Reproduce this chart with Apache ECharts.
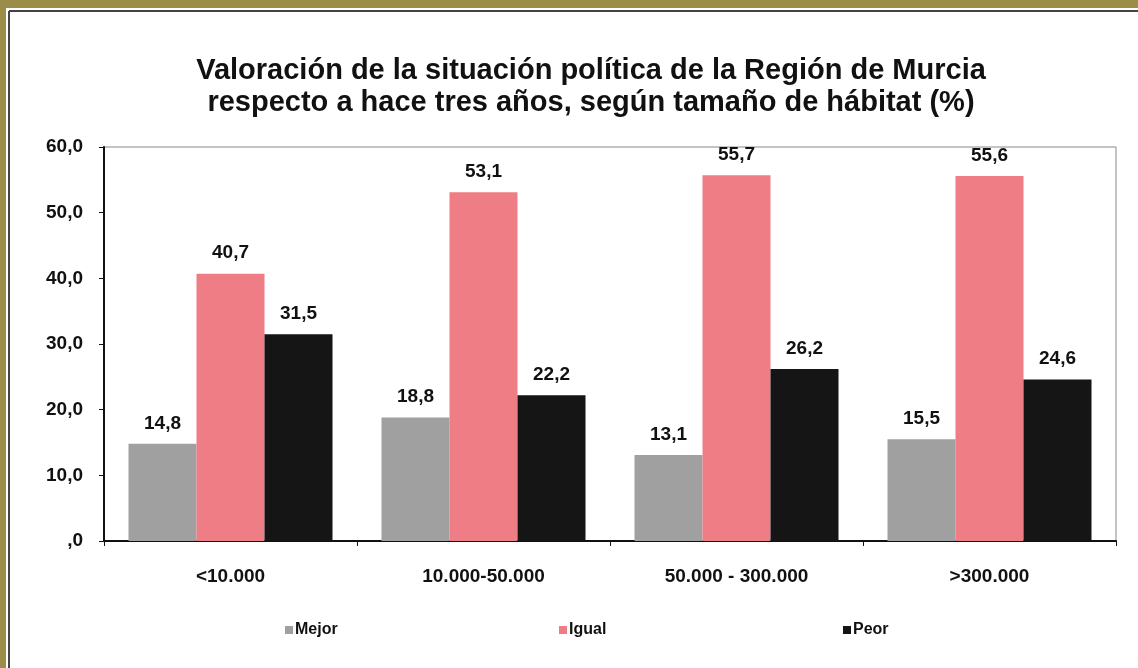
<!DOCTYPE html>
<html>
<head>
<meta charset="utf-8">
<script src="https://cdn.jsdelivr.net/npm/echarts@6/dist/echarts.min.js"></script>
<style>
html,body{margin:0;padding:0;background:#fff;}
#main{width:1138px;height:668px;}
</style>
</head>
<body>
<div id="main"></div>
<script>
const categories = ['<10.000', '10.000-50.000', '50.000 - 300.000', '>300.000'];
const mejor = [14.8, 18.8, 13.1, 15.5];
const igual = [40.7, 53.1, 55.7, 55.6];
const peor = [31.5, 22.2, 26.2, 24.6];
const seriesNames = ['Mejor', 'Igual', 'Peor'];
const seriesColors = ['#a0a0a0', '#ef7d85', '#151515'];
const titleLines = ['Valoración de la situación política de la Región de Murcia',
                    'respecto a hace tres años, según tamaño de hábitat (%)'];

const FONT = '"Liberation Sans", Arial, sans-serif';
function fmt(v) {
  const s = v.toFixed(1).replace('.', ',');
  return s.startsWith('0,') ? s.substring(1) : s;
}
const labelCfg = {
  show: true, position: 'top', distance: 11,
  color: '#111', fontWeight: 'bold', fontSize: 19, fontFamily: FONT,
  formatter: p => fmt(p.value)
};
const chart = echarts.init(document.getElementById('main'));
const dataSets = [mejor, igual, peor];
const legendLeft = [280, 554, 838];
chart.setOption({
  backgroundColor: '#fff',
  animation: false,
  title: {
    text: titleLines.join('\n'),
    left: 586, top: 50, textAlign: 'center',
    textStyle: { fontFamily: FONT, fontWeight: 'bold', fontSize: 29, color: '#111', lineHeight: 32 }
  },
  graphic: [
    { type: 'rect', shape: { x: 0, y: 0, width: 1138, height: 8 }, style: { fill: '#9b8c48' } },
    { type: 'rect', shape: { x: 0, y: 0, width: 6, height: 668 }, style: { fill: '#9b8c48' } },
    { type: 'line', shape: { x1: 9, y1: 11, x2: 1138, y2: 11 }, style: { stroke: '#444', lineWidth: 2 } },
    { type: 'line', shape: { x1: 9, y1: 11, x2: 9, y2: 668 }, style: { stroke: '#444', lineWidth: 2 } }
  ],
  legend: seriesNames.map((n, i) => ({
    data: [n], left: legendLeft[i], top: 617,
    itemWidth: 8, itemHeight: 8, icon: 'rect', itemGap: 5,
    textStyle: { fontFamily: FONT, fontWeight: 'bold', fontSize: 16, color: '#111', padding: [0, 0, 0, -3] }
  })),
  grid: { left: 104, right: 22, top: 147, bottom: 127, show: true, borderColor: '#888', borderWidth: 1 },
  xAxis: {
    type: 'category', data: categories,
    axisLine: { lineStyle: { color: '#111', width: 2 } },
    axisTick: { show: true, length: 5, lineStyle: { color: '#111' } },
    axisLabel: { color: '#111', fontWeight: 'bold', fontSize: 19, fontFamily: FONT, margin: 26 }
  },
  yAxis: {
    type: 'value', min: 0, max: 60, interval: 10,
    axisLine: { show: true, lineStyle: { color: '#111', width: 2 } },
    axisTick: { show: true, length: 5, lineStyle: { color: '#111' } },
    splitLine: { show: false },
    axisLabel: { color: '#111', fontWeight: 'bold', fontSize: 19, fontFamily: FONT, margin: 21,
      formatter: v => fmt(v) }
  },
  series: seriesNames.map((n, i) => ({
    name: n, type: 'bar', data: dataSets[i],
    barWidth: 68, barGap: '0%',
    itemStyle: { color: seriesColors[i] },
    label: labelCfg
  }))
});
</script>
</body>
</html>
